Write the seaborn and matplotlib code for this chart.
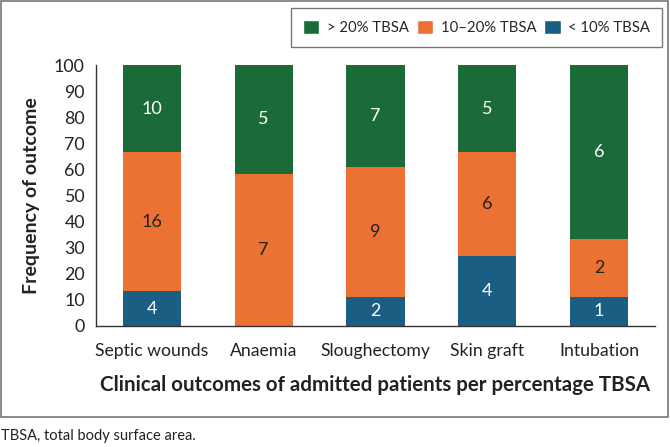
import matplotlib
matplotlib.use("Agg")
import matplotlib.pyplot as plt
import numpy as np
import pandas as pd
import seaborn as sns
from matplotlib.patches import Patch, Rectangle

# counts per outcome and TBSA group
outcomes = ["Septic wounds", "Anaemia", "Sloughectomy", "Skin graft", "Intubation"]
under_10 = [4, 0, 2, 4, 1]
from_10_20 = [16, 7, 9, 6, 2]
over_20 = [10, 5, 7, 5, 6]

group_labels = ["> 20% TBSA", "10\u201320% TBSA", "< 10% TBSA"]
colors = {"over": "#1a6b37", "mid": "#ec7233", "under": "#1b5e83"}

df = pd.DataFrame({"outcome": outcomes, "under": under_10, "mid": from_10_20, "over": over_20})
df["total"] = df[["under", "mid", "over"]].sum(axis=1)
df["p_under"] = df["under"] / df["total"] * 100
df["p_mid"] = df["mid"] / df["total"] * 100
df["p_over"] = df["over"] / df["total"] * 100
df["cum_mid"] = df["p_under"] + df["p_mid"]
df["cum_over"] = df["cum_mid"] + df["p_over"]

sns.set_style("white")
plt.rcParams["font.family"] = ["Lato", "DejaVu Sans"]

W, H = 670, 447
fig = plt.figure(figsize=(W / 100, H / 100), dpi=100)
ax = fig.add_axes([96 / W, (H - 326) / H, (655 - 96) / W, (326 - 65) / H])

# stacked look: draw cumulative bars from top down
sns.barplot(data=df, x="outcome", y="cum_over", color=colors["over"], width=0.52,
            saturation=1, ax=ax, edgecolor="none")
sns.barplot(data=df, x="outcome", y="cum_mid", color=colors["mid"], width=0.52,
            saturation=1, ax=ax, edgecolor="none")
sns.barplot(data=df, x="outcome", y="p_under", color=colors["under"], width=0.52,
            saturation=1, ax=ax, edgecolor="none")

# segment labels
for i, row in df.iterrows():
    segs = [(row["under"], 0, row["p_under"], "white"),
            (row["mid"], row["p_under"], row["p_mid"], "#222222"),
            (row["over"], row["cum_mid"], row["p_over"], "white")]
    for n, base, h, c in segs:
        if n > 0:
            ax.text(i, base + h / 2, str(n), ha="center", va="center",
                    fontsize=13, color=c)

ax.set_xlim(-0.5, len(outcomes) - 0.5)
ax.set_ylim(0, 100)
ax.set_yticks(np.arange(0, 101, 10))
ax.set_xticks(np.arange(-0.5, len(outcomes)), labels=[""] * (len(outcomes) + 1))
ax.set_xticks(np.arange(len(outcomes)), labels=outcomes, minor=True)
ax.tick_params(axis="x", which="major", direction="out", length=6, width=1, color="#333333")
ax.tick_params(axis="x", which="minor", length=0, pad=12, labelsize=12.7, labelcolor="#222222")
ax.tick_params(axis="y", direction="out", length=5, width=1, color="#333333",
               labelsize=12.8, labelcolor="#222222", pad=3)
for s in ["top", "right"]:
    ax.spines[s].set_visible(False)
for s in ["left", "bottom"]:
    ax.spines[s].set_color("#333333")
    ax.spines[s].set_linewidth(1)

ax.set_ylabel("Frequency of outcome", fontsize=14, fontweight="bold", color="#222222", labelpad=10)
ax.set_xlabel("Clinical outcomes of admitted patients per percentage TBSA", fontsize=14.8,
              fontweight="bold", color="#222222", labelpad=12)

handles = [Patch(facecolor=colors["over"]), Patch(facecolor=colors["mid"]),
           Patch(facecolor=colors["under"])]
leg = fig.legend(handles, group_labels, loc="upper right", bbox_to_anchor=(662 / W, 1 - 8 / H),
                 ncol=3, frameon=True, fancybox=False, fontsize=10.7, handlelength=1.1,
                 handleheight=1.1, handletextpad=0.5, columnspacing=0.55, borderpad=0.8,
                 borderaxespad=0)
leg.get_frame().set_edgecolor("#555555")
leg.get_frame().set_linewidth(1)

# outer frame around the chart
fig.patches.append(Rectangle((1 / W, 1 - 417 / H), 667 / W, 416 / H, transform=fig.transFigure,
                             fill=False, edgecolor="#777777", linewidth=1.2))

fig.text(1 / W, 1 - 436 / H, "TBSA, total body surface area.", fontsize=10.5, color="#222222",
         ha="left", va="center")

fig.savefig("out.png", dpi=100)
